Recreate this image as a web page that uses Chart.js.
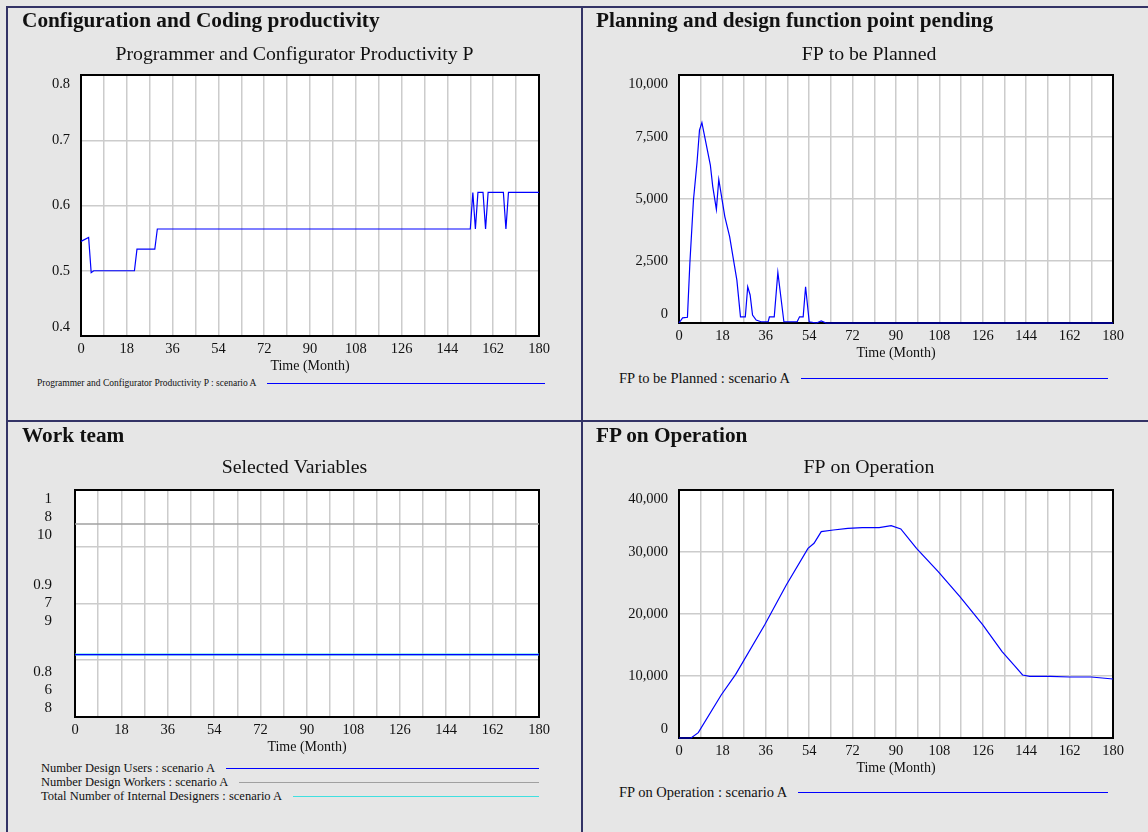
<!DOCTYPE html>
<html lang="en">
<head>
<meta charset="utf-8">
<title>Scenario A - selected variables</title>
<script src="https://cdn.jsdelivr.net/npm/chart.js@4.4.1/dist/chart.umd.min.js"></script>
<style>
  html, body { margin: 0; padding: 0; background: #e6e6e6; overflow: hidden; }
  body { width: 1148px; height: 832px; position: relative; font-family: 'Liberation Serif', 'Times New Roman', serif; color: #111; }
  .rule { position: absolute; background: #333366; }
  .head { position: absolute; font-weight: bold; font-size: 21.3px; line-height: 24px; white-space: nowrap; }
  canvas { position: absolute; }
  .legend { position: absolute; }
  .legend .row { display: flex; align-items: center; white-space: nowrap; }
  .legend .swatch { flex: 1; margin-left: 11px; height: 0; border-top: 1px solid; }
</style>
</head>
<body>

<canvas id="prodChart" width="573" height="368" style="left:8px;top:8px"></canvas>
<canvas id="planChart" width="572" height="355" style="left:583px;top:8px"></canvas>
<canvas id="teamChart" width="573" height="334" style="left:8px;top:423px"></canvas>
<canvas id="opChart" width="572" height="355" style="left:583px;top:423px"></canvas>

<div class="rule" style="left:6px;top:6px;width:2px;height:826px"></div>
<div class="rule" style="left:6px;top:6px;width:1142px;height:2px"></div>
<div class="rule" style="left:581px;top:6px;width:2px;height:826px"></div>
<div class="rule" style="left:6px;top:420px;width:1142px;height:2px"></div>

<div class="head" style="left:22px;top:8px">Configuration and Coding productivity</div>
<div class="head" style="left:596px;top:8px">Planning and design function point pending</div>
<div class="head" style="left:22px;top:423px">Work team</div>
<div class="head" style="left:596px;top:423px">FP on Operation</div>

<div class="legend" id="prodLegend" style="left:37px;top:376px;width:508px;font-size:9.5px"></div>
<div class="legend" id="planLegend" style="left:619px;top:369px;width:489px;font-size:14.5px"></div>
<div class="legend" id="teamLegend" style="left:41px;top:761px;width:498px;font-size:12.5px"></div>
<div class="legend" id="opLegend" style="left:619px;top:783px;width:489px;font-size:14.5px"></div>

<script>
// x axis: months, labelled every 18, grid every 9
const monthTicks = [0, 18, 36, 54, 72, 90, 108, 126, 144, 162, 180];

// Programmer and Configurator Productivity P
const prodMonths = [0, 3, 4, 5, 21, 22, 29, 30, 153, 154, 155, 156, 158, 159, 160, 166, 167, 168, 180];
const prodValues = [0.545, 0.551, 0.497, 0.5, 0.5, 0.533, 0.533, 0.564, 0.564, 0.62, 0.564, 0.62, 0.62, 0.564, 0.62, 0.62, 0.564, 0.62, 0.62];
const prodTickLabels = ['0.4', '0.5', '0.6', '0.7', '0.8'];

// FP to be Planned
const planMonths = [0, 1.5, 3.5, 4.5, 6, 7.5, 8.5, 9.5, 13, 14, 15.5, 16.5, 19, 21, 24, 25.5, 27.5, 28.5, 29.5, 30.5, 32, 34, 37, 37.5, 39.5, 41, 43.5, 49, 50, 51.5, 52.5, 54, 57, 59, 61, 180];
const planValues = [0, 210, 230, 2400, 4960, 6500, 7780, 8080, 6370, 5500, 4580, 5790, 4290, 3480, 1730, 250, 250, 1460, 1130, 320, 120, 50, 50, 250, 250, 2040, 50, 50, 250, 250, 1460, 50, 0, 80, 0, 0];
const planTickLabels = ['0', '2,500', '5,000', '7,500', '10,000'];

// Work team (three variables, each with its own scale)
const teamMonths = [0, 180];
const usersValues = [0.855, 0.855];
const workersValues = [7.7, 7.7];
const designersValues = [8.55, 8.55];
const usersTickLabels = ['0.8', '0.9', '1'];
const workersTickLabels = ['6', '7', '8'];
const designersTickLabels = ['8', '9', '10'];

// FP on Operation
const opMonths = [0, 5, 8, 17.5, 23.5, 35.5, 44.5, 53.5, 56, 59, 64, 70, 76, 83, 88, 92, 98.5, 107.5, 116.5, 126, 134, 139.5, 142.5, 145.5, 154, 162, 171, 180];
const opValues = [0, 0, 860, 6940, 10270, 18230, 24680, 30590, 31400, 33280, 33550, 33820, 33930, 33930, 34250, 33720, 30590, 26820, 22790, 18230, 13920, 11500, 10160, 9950, 9950, 9840, 9840, 9520];
const opTickLabels = ['0', '10,000', '20,000', '30,000', '40,000'];

Chart.defaults.font.family = "'Liberation Serif', 'Times New Roman', serif";
Chart.defaults.color = '#111';

const gridColor = '#cccccc';

function toPoints(xs, ys) {
    return xs.map((x, i) => ({ x: x, y: ys[i] }));
}

// white plot area and black frame, like Vensim
const plotFrame = {
    id: 'plotFrame',
    beforeDraw(chart) {
        const { ctx, chartArea: a } = chart;
        ctx.save();
        ctx.fillStyle = '#ffffff';
        ctx.fillRect(a.left, a.top, a.width, a.height);
        ctx.restore();
    },
    beforeDatasetsDraw(chart) {
        const { ctx, chartArea: a } = chart;
        ctx.save();
        ctx.strokeStyle = '#000000';
        ctx.lineWidth = 2;
        ctx.strokeRect(a.left, a.top, a.width, a.height);
        ctx.restore();
    }
};

// first and last labels sit inside the frame
function edgeLabel(text, i, n) {
    if (i === 0) return [text, ''];
    if (i === n - 1) return ['', text];
    return text;
}

function timeAxis() {
    return {
        type: 'linear',
        min: 0,
        max: 180,
        grid: { color: gridColor, lineWidth: 1.5, drawTicks: false },
        border: { display: false },
        ticks: {
            stepSize: 9,
            autoSkip: false,
            maxRotation: 0,
            padding: 4,
            font: { size: 14.5 },
            callback: v => monthTicks.includes(v) ? String(v) : ''
        },
        title: { display: true, text: 'Time (Month)', font: { size: 14 }, padding: { top: 0, bottom: 1 } },
        afterFit: s => { s.height = 40; s.paddingLeft = 0; s.paddingRight = 0; }
    };
}

// empty strip on the right so the plot ends where Vensim puts it,
// while the chart title stays centred on the whole panel
function rightGutter() {
    return {
        position: 'right',
        min: 0,
        max: 1,
        grid: { display: false },
        border: { display: false },
        ticks: { display: false },
        afterFit: s => { s.width = 42; }
    };
}

// plotLeft: left edge of the plot inside the canvas
function valueAxis(min, max, step, plotLeft, labels) {
    return {
        min: min,
        max: max,
        grid: { color: gridColor, lineWidth: 1.5, drawTicks: false },
        border: { display: false },
        ticks: {
            stepSize: step,
            autoSkip: false,
            padding: 11,
            font: { size: 14.5 },
            callback: (v, i, ticks) => edgeLabel(labels[i], i, ticks.length)
        },
        afterFit: s => { s.width = plotLeft; s.paddingTop = 0; s.paddingBottom = 0; }
    };
}

function drawPanel(canvasId, title, titleTop, datasets, yScales) {
    const ctx = document.getElementById(canvasId);
    return new Chart(ctx, {
        type: 'line',
        data: { datasets: datasets },
        options: {
            responsive: false,
            animation: false,
            events: [],
            layout: { padding: { top: titleTop, right: 0, bottom: 0, left: 0 } },
            plugins: {
                legend: { display: false },
                tooltip: { enabled: false },
                title: {
                    display: true,
                    text: title,
                    font: { size: 19.8, weight: 'normal', lineHeight: '24px' },
                    padding: { top: 0, bottom: 67 - titleTop - 24 }
                }
            },
            scales: Object.assign({ x: timeAxis() }, yScales, { gutter: rightGutter() })
        },
        plugins: [plotFrame]
    });
}

function line(label, xs, ys, color, extra) {
    return Object.assign({
        label: label,
        data: toPoints(xs, ys),
        xAxisID: 'x',
        yAxisID: 'y',
        borderColor: color,
        borderWidth: 1.2,
        pointRadius: 0,
        tension: 0,
        clip: false
    }, extra || {});
}

// Vensim style legend: text then a line to the right
function fillLegend(chart, boxId, rowHeight) {
    const box = document.getElementById(boxId);
    chart.data.datasets.forEach(ds => {
        const row = document.createElement('div');
        row.className = 'row';
        row.style.height = rowHeight + 'px';
        const text = document.createElement('span');
        text.textContent = ds.label;
        const swatch = document.createElement('span');
        swatch.className = 'swatch';
        swatch.style.borderTopColor = ds.borderColor;
        row.append(text, swatch);
        box.appendChild(row);
    });
}

const prodChart = drawPanel('prodChart', 'Programmer and Configurator Productivity P', 35,
    [line('Programmer and Configurator Productivity P : scenario A', prodMonths, prodValues, '#0000ff')],
    { y: valueAxis(0.4, 0.8, 0.1, 73, prodTickLabels) });
fillLegend(prodChart, 'prodLegend', 14);

const planChart = drawPanel('planChart', 'FP to be Planned', 35,
    [line('FP to be Planned : scenario A', planMonths, planValues, '#0000ff')],
    { y: valueAxis(0, 10000, 2500, 96, planTickLabels) });
fillLegend(planChart, 'planLegend', 18);

// work team: one visible axis carries the stacked labels of all three scales
const teamY = valueAxis(0.8, 1, 0.05, 67, usersTickLabels);
teamY.ticks.padding = 23;
teamY.ticks.font = { size: 15, lineHeight: 1.2 };
teamY.ticks.callback = (v, i, ticks) => {
    if (i % 2 === 1) return '';
    const k = i / 2;
    const stack = [usersTickLabels[k], workersTickLabels[k], designersTickLabels[k]];
    if (i === 0) return stack.concat(['', '', '']);
    if (i === ticks.length - 1) return ['', '', ''].concat(stack);
    return stack;
};

const teamChart = drawPanel('teamChart', 'Selected Variables', 33,
    [
        line('Number Design Users : scenario A', teamMonths, usersValues, '#0000ff', { yAxisID: 'y' }),
        line('Number Design Workers : scenario A', teamMonths, workersValues, '#a0a0a0', { yAxisID: 'yWorkers', borderWidth: 1.5 }),
        line('Total Number of Internal Designers : scenario A', teamMonths, designersValues, '#40e0e0', { yAxisID: 'yDesigners', borderWidth: 2 })
    ],
    {
        y: teamY,
        yWorkers: { display: false, min: 6, max: 8 },
        yDesigners: { display: false, min: 8, max: 10 }
    });
fillLegend(teamChart, 'teamLegend', 14);

const opChart = drawPanel('opChart', 'FP on Operation', 33,
    [line('FP on Operation : scenario A', opMonths, opValues, '#0000ff')],
    { y: valueAxis(0, 40000, 10000, 96, opTickLabels) });
fillLegend(opChart, 'opLegend', 18);
</script>
</body>
</html>
